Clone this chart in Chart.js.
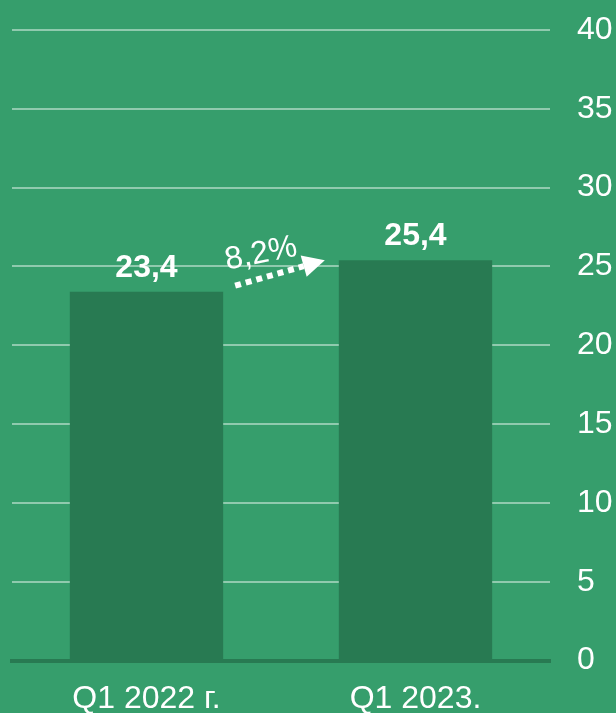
<!DOCTYPE html>
<html>
<head>
<meta charset="utf-8">
<script src="https://cdn.jsdelivr.net/npm/chart.js@4"></script>
<style>
  html, body { margin: 0; padding: 0; background: #369e6c; }
  #wrap { width: 616px; height: 713px; }
</style>
</head>
<body>
<div id="wrap"><canvas id="chart"></canvas></div>
<script>
const categories = ['Q1 2022 г.', 'Q1 2023.'];
const values = [23.4, 25.4];
const valueLabels = ['23,4', '25,4'];
const growthLabel = '8,2%';
const yTicks = [0, 5, 10, 15, 20, 25, 30, 35, 40];

const BG = '#369e6c';
const BAR = '#287a52';
const GRID = 'rgba(255, 255, 255, 0.45)';
const FONT = "'Liberation Sans', Arial, sans-serif";

// value labels above bars + growth arrow between them
const annotations = {
  id: 'annotations',
  afterDatasetsDraw(chart) {
    const ctx = chart.ctx;
    const meta = chart.getDatasetMeta(0);
    ctx.save();
    ctx.fillStyle = '#fff';
    ctx.textAlign = 'center';
    ctx.textBaseline = 'alphabetic';
    ctx.font = 'bold 32px ' + FONT;
    meta.data.forEach((bar, i) => {
      ctx.fillText(valueLabels[i], bar.x, bar.y - 15);
    });

    const b1 = meta.data[0], b2 = meta.data[1];
    const x1 = b1.x + b1.width / 2 + 12, y1 = b1.y - 6;
    const x2 = b2.x - b2.width / 2 - 14, y2 = b2.y;
    const ang = Math.atan2(y2 - y1, x2 - x1);
    const head = 22;
    const lx = x2 - Math.cos(ang) * head, ly = y2 - Math.sin(ang) * head;

    ctx.strokeStyle = '#fff';
    ctx.lineWidth = 6;
    ctx.setLineDash([6, 5]);
    ctx.beginPath();
    ctx.moveTo(x1, y1);
    ctx.lineTo(lx, ly);
    ctx.stroke();
    ctx.setLineDash([]);

    ctx.beginPath();
    ctx.moveTo(x2, y2);
    ctx.lineTo(lx + Math.sin(ang) * 11, ly - Math.cos(ang) * 11);
    ctx.lineTo(lx - Math.sin(ang) * 11, ly + Math.cos(ang) * 11);
    ctx.closePath();
    ctx.fill();

    ctx.translate((x1 + x2) / 2 - 19, (y1 + y2) / 2 - 19);
    ctx.rotate(ang * 0.7);
    ctx.font = '32px ' + FONT;
    ctx.textAlign = 'center';
    ctx.textBaseline = 'middle';
    ctx.fillText(growthLabel, 0, 0);
    ctx.restore();
  }
};

new Chart(document.getElementById('chart'), {
  type: 'bar',
  data: {
    labels: categories,
    datasets: [{
      data: values,
      backgroundColor: BAR,
      borderWidth: 0,
      categoryPercentage: 1,
      barPercentage: 0.57
    }]
  },
  options: {
    responsive: true,
    maintainAspectRatio: false,
    animation: false,
    layout: { padding: { top: 30, left: 12, right: 0, bottom: -24 } },
    plugins: {
      legend: { display: false },
      tooltip: { enabled: false }
    },
    scales: {
      x: {
        grid: { display: false, drawTicks: false },
        border: { display: true, color: BAR, width: 4, z: 1 },
        ticks: { color: '#fff', font: { family: FONT, size: 32 }, padding: 19 }
      },
      y: {
        position: 'right',
        min: 0,
        max: 40,
        afterBuildTicks(scale) {
          scale.ticks = yTicks.map(v => ({ value: v }));
        },
        afterFit(scale) {
          scale.width = 66;
          scale.paddingTop = 0;
          scale.paddingBottom = 0;
        },
        grid: {
          color: GRID,
          lineWidth: 2,
          drawTicks: false
        },
        border: { display: false },
        ticks: {
          color: '#fff',
          font: { family: FONT, size: 32 },
          padding: 27
        }
      }
    }
  },
  plugins: [annotations]
});
</script>
</body>
</html>
